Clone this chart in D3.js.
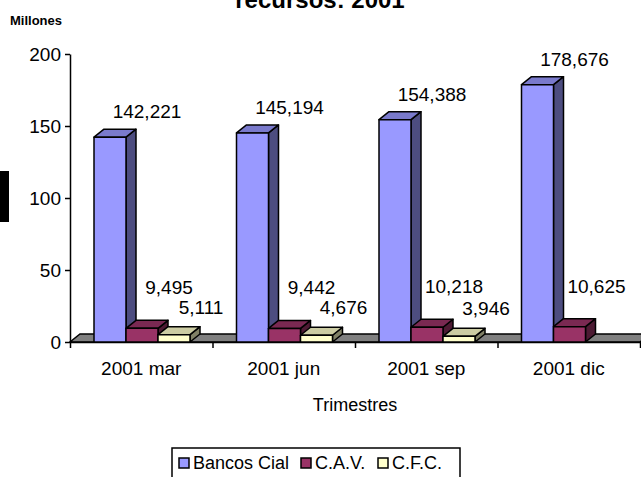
<!DOCTYPE html>
<html>
<head>
<meta charset="utf-8">
<script src="https://cdn.jsdelivr.net/npm/d3@7"></script>
<style>
  body { margin: 0; background: #fff; }
  svg { display: block; font-family: "Liberation Sans", Arial, sans-serif; }
</style>
</head>
<body>
<svg width="641" height="477"></svg>
<script>
var categories = ["2001 mar", "2001 jun", "2001 sep", "2001 dic"];
var seriesNames = ["Bancos Cial", "C.A.V.", "C.F.C."];
var bancosCial = [142.221, 145.194, 154.388, 178.676];
var cav = [9.495, 9.442, 10.218, 10.625];
var cfc = [5.111, 4.676, 3.946, null];
var yTicks = [0, 50, 100, 150, 200];

var seriesValues = [bancosCial, cav, cfc];

// colors: front, side, top
var colors = [
    { front: "#9999ff", side: "#4d4d80", top: "#7a7acc" },
    { front: "#993366", side: "#4d1a33", top: "#7a2952" },
    { front: "#ffffcc", side: "#808066", top: "#cccca3" }
];
// label nudges per series (dx from bar centre, dy from bar top)
var labelNudge = [{ dx: 37, dy: -19 }, { dx: 27, dy: -34 }, { dx: 27, dy: -21 }];

var svg = d3.select("svg");
var depthX = 10, depthY = -8;

var x0 = d3.scaleBand().domain(categories).range([70, 640]);
var x1 = d3.scaleBand().domain(seriesNames).range([24, 120]);
var y = d3.scaleLinear().domain([0, 200]).range([342, 54]);
var edges = d3.scaleLinear().domain([0, categories.length]).range([70, 640]);

var fmt = d3.formatLocale({ decimal: ",", thousands: ".", grouping: [3], currency: ["", ""] }).format(".3f");

// title (cut at top, as in the original)
svg.append("text")
    .attr("x", 320).attr("y", 8)
    .attr("text-anchor", "middle")
    .style("font-weight", "bold").style("font-size", "24px")
    .text("recursos: 2001");

svg.append("text")
    .attr("x", 10).attr("y", 25)
    .style("font-weight", "bold").style("font-size", "13px")
    .text("Millones");

svg.append("rect")
    .attr("x", 0).attr("y", 171).attr("width", 9).attr("height", 51)
    .attr("fill", "#000");

// floor
var y0 = y(0);
svg.append("path")
    .attr("d", "M" + edges(0) + "," + y0 + "L" + edges(categories.length) + "," + y0 +
        "L" + (edges(categories.length) + depthX) + "," + (y0 + depthY) +
        "L" + (edges(0) + depthX) + "," + (y0 + depthY) + "Z")
    .attr("fill", "#808080").attr("stroke", "#000").attr("stroke-width", 1.5);

// y axis
var yAxis = svg.append("g")
    .attr("transform", "translate(70,0)")
    .call(d3.axisLeft(y).tickValues(yTicks).tickSize(5).tickSizeOuter(0).tickPadding(4));
yAxis.selectAll("text").style("font-size", "19px").attr("fill", "#000");
yAxis.selectAll("line, path").attr("stroke", "#000").attr("stroke-width", 1.5);

// x axis ticks at category edges
var xAxis = svg.append("g")
    .attr("transform", "translate(0," + y0 + ")")
    .call(d3.axisBottom(edges).tickValues(d3.range(categories.length + 1)).tickSize(6).tickSizeOuter(0).tickFormat(""));
xAxis.selectAll("line, path").attr("stroke", "#000").attr("stroke-width", 1.5);

var xLabels = svg.append("g")
    .attr("transform", "translate(0," + y0 + ")")
    .call(d3.axisBottom(x0).tickSize(0).tickPadding(20));
xLabels.select(".domain").remove();
xLabels.selectAll("text").style("font-size", "19px").attr("fill", "#000");

svg.append("text")
    .attr("x", 355).attr("y", 411)
    .attr("text-anchor", "middle")
    .style("font-size", "18px")
    .text("Trimestres");

// bars
var bars = [];
categories.forEach(function (c, i) {
    seriesNames.forEach(function (s, j) {
        var v = seriesValues[j][i];
        if (v == null) return;
        bars.push({ cat: c, s: s, j: j, v: v });
    });
});

var barG = svg.append("g");
bars.forEach(function (d) {
    var xl = x0(d.cat) + x1(d.s), xr = xl + x1.bandwidth();
    var yt = y(d.v), yb = y(0);
    var g = barG.append("g").attr("stroke", "#000").attr("stroke-width", 1.5).attr("stroke-linejoin", "round");
    g.append("path")
        .attr("d", "M" + xr + "," + yb + "L" + (xr + depthX) + "," + (yb + depthY) +
            "L" + (xr + depthX) + "," + (yt + depthY) + "L" + xr + "," + yt + "Z")
        .attr("fill", colors[d.j].side);
    g.append("path")
        .attr("d", "M" + xl + "," + yt + "L" + (xl + depthX) + "," + (yt + depthY) +
            "L" + (xr + depthX) + "," + (yt + depthY) + "L" + xr + "," + yt + "Z")
        .attr("fill", colors[d.j].top);
    g.append("rect")
        .attr("x", xl).attr("y", yt)
        .attr("width", x1.bandwidth()).attr("height", yb - yt)
        .attr("fill", colors[d.j].front);
});

// value labels
svg.append("g").selectAll("text")
    .data(bars)
    .enter().append("text")
    .attr("x", d => x0(d.cat) + x1(d.s) + x1.bandwidth() / 2 + labelNudge[d.j].dx)
    .attr("y", d => y(d.v) + labelNudge[d.j].dy)
    .attr("text-anchor", "middle")
    .style("font-size", "19px")
    .text(d => fmt(d.v));

// legend
var legend = svg.append("g");
legend.append("rect")
    .attr("x", 172).attr("y", 448).attr("width", 288).attr("height", 40)
    .attr("fill", "#fff").attr("stroke", "#000").attr("stroke-width", 1.5);
var legendX = [179, 301, 378];
seriesNames.forEach(function (s, j) {
    legend.append("rect")
        .attr("x", legendX[j]).attr("y", 458).attr("width", 10).attr("height", 10)
        .attr("fill", colors[j].front).attr("stroke", "#000").attr("stroke-width", 1.5);
    legend.append("text")
        .attr("x", legendX[j] + 14).attr("y", 469)
        .style("font-size", "18px")
        .text(s);
});
</script>
</body>
</html>
